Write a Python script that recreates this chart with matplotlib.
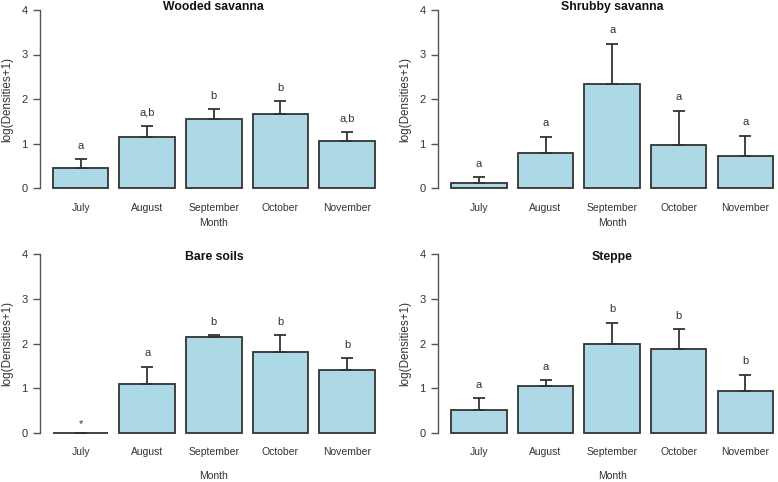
import numpy as np
import matplotlib
matplotlib.use("Agg")
from matplotlib import pyplot as plt

plt.rcParams['font.family'] = ['Liberation Sans', 'DejaVu Sans']

months = ["July", "August", "September", "October", "November"]

# moyennes log(densite+1) et erreur standard par habitat
wooded_mean = [0.46, 1.15, 1.55, 1.67, 1.05]
wooded_se = [0.19, 0.25, 0.23, 0.28, 0.21]
wooded_letters = ["a", "a,b", "b", "b", "a,b"]

shrubby_mean = [0.13, 0.79, 2.33, 0.98, 0.73]
shrubby_se = [0.12, 0.37, 0.91, 0.76, 0.45]
shrubby_letters = ["a", "a", "a", "a", "a"]

bare_mean = [0.0, 1.10, 2.15, 1.82, 1.40]
bare_se = [0.0, 0.38, 0.03, 0.36, 0.27]
bare_letters = ["*", "a", "b", "b", "b"]

steppe_mean = [0.52, 1.05, 2.00, 1.87, 0.93]
steppe_se = [0.25, 0.13, 0.47, 0.45, 0.37]
steppe_letters = ["a", "a", "b", "b", "b"]

W, H = 778, 482
fig = plt.figure(figsize=(W / 100, H / 100), dpi=100)

bar_col = "#ADD8E6"
edge_col = "#333333"
axis_col = "#555555"
txt_col = "#333333"

x = 0.7 + 1.2 * np.arange(len(months))


def panel(left_px, zero_px, mean, se, letters, title, title_y, month_pad):
    # 55.5 px per x unit, 44.6 px per y unit
    width_px = 6.264 * 55.5
    height_px = 4.32 * 44.6
    bottom_px = zero_px + 0.16 * 44.6
    ax = fig.add_axes([left_px / W, (H - bottom_px) / H, width_px / W, height_px / H])
    ax.bar(x, mean, width=1.0, color=bar_col, edgecolor=edge_col, linewidth=1.3, zorder=2)
    lower = np.zeros(len(mean))
    ax.errorbar(x, mean, yerr=[lower, se], fmt="none", ecolor=edge_col,
                elinewidth=1.3, capsize=4.6, capthick=1.3, zorder=3)
    for xi, m, s, lab in zip(x, mean, se, letters):
        off = 0.3 if lab != "*" else 0.2
        ax.text(xi, m + s + off, lab, ha="center", va="center", fontsize=8, color=txt_col)
    ax.set_xlim(-0.032, 6.232)
    ax.set_ylim(-0.16, 4.16)
    for side in ["top", "right", "bottom"]:
        ax.spines[side].set_visible(False)
    ax.spines["left"].set_bounds(0, 4)
    ax.spines["left"].set_color(axis_col)
    ax.spines["left"].set_linewidth(1.0)
    ax.set_yticks([0, 1, 2, 3, 4])
    ax.set_xticks(x)
    ax.set_xticklabels(months)
    ax.tick_params(axis="y", length=5, width=1.0, color=axis_col, pad=4,
                   labelsize=8, labelcolor=txt_col)
    ax.tick_params(axis="x", length=0, pad=5.5, labelsize=7.5, labelcolor=txt_col)
    ax.set_xlabel("Month", fontsize=7.5, color=txt_col, labelpad=month_pad)
    ax.set_ylabel("log(Densities+1)", fontsize=8.4, color=txt_col, labelpad=6)
    ax.text(3.1, title_y, title, ha="center", va="center", fontsize=8.8,
            fontweight="bold", color="#111111")
    ax.patch.set_alpha(0)
    return ax


panel(40, 188.3, wooded_mean, wooded_se, wooded_letters, "Wooded savanna", 4.06, 3.5)
panel(438.3, 188.3, shrubby_mean, shrubby_se, shrubby_letters, "Shrubby savanna", 4.06, 3.5)
panel(40, 432.7, bare_mean, bare_se, bare_letters, "Bare soils", 3.95, 10)
panel(438.3, 432.7, steppe_mean, steppe_se, steppe_letters, "Steppe", 3.95, 10)

fig.savefig("out.png", dpi=100)
